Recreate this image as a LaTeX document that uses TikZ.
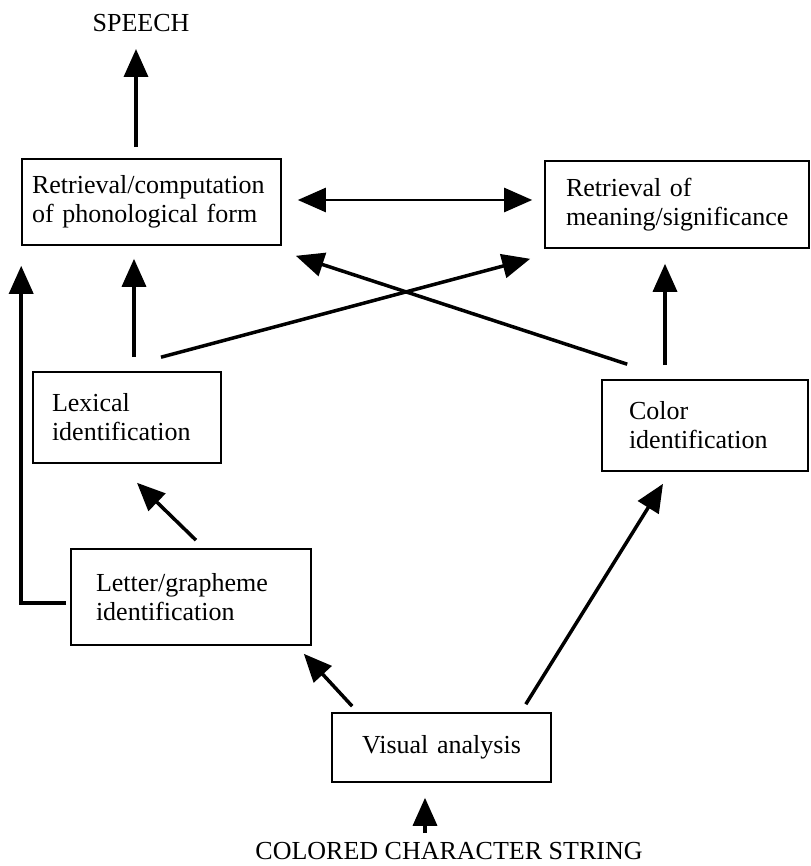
\documentclass[tikz,border=0pt]{standalone}
\usepackage{fontspec}
\setmainfont{Liberation Serif}
\usetikzlibrary{arrows.meta}
\begin{document}
\begin{tikzpicture}[x=1pt,y=-1pt,
  font=\fontsize{26}{29}\selectfont,
  box/.style={draw, line width=1.6pt, inner ysep=0pt, align=left},
  lbl/.style={inner sep=0pt},
  arr/.style={line width=3.5pt, -{Triangle[length=28pt,width=24pt]}},
  darr/.style={line width=2.5pt, {Triangle[length=28pt,width=24pt]}-{Triangle[length=28pt,width=24pt]}}
]
\useasboundingbox (0,0) rectangle (810,866);
% boxes
\node[box, minimum width=259pt, minimum height=86pt, inner xsep=10pt, text width=239pt] (phon) at (151.5,202) {Retrieval/computation\\of phonological form};
\node[box, minimum width=264pt, minimum height=87pt, inner xsep=21pt, text width=222pt] (mean) at (677,204.5) {Retrieval of\\meaning/significance};
\node[box, minimum width=188pt, minimum height=91pt, inner xsep=19pt, text width=150pt] (lex) at (127,417.5) {Lexical\\identification};
\node[box, minimum width=206pt, minimum height=91pt, inner xsep=27pt, text width=152pt] (color) at (705,425.5) {Color\\identification};
\node[box, minimum width=240pt, minimum height=96pt, inner xsep=25pt, text width=190pt] (letter) at (191,597) {Letter/grapheme\\identification};
\node[box, minimum width=219pt, minimum height=69pt, inner xsep=8pt, text width=203pt, align=center] (visual) at (441.5,747.5) {Visual analysis};
% labels
\node[lbl, anchor=base] (speech) at (141,32) {SPEECH};
\node[lbl, anchor=base] (input) at (449,859) {COLORED CHARACTER STRING};
% connectors
\draw[arr] ([xshift=-15.5pt,yshift=11pt]phon.north) -- ([xshift=-5pt,yshift=-17pt]speech.base);
\draw[darr] ([xshift=16pt,yshift=2pt]phon.east) -- ([xshift=-12pt,yshift=4.5pt]mean.west);
\draw[line width=3.5pt, -{Triangle[length=28pt,width=24pt]}] ([xshift=-4pt,yshift=-6pt]letter.west) -| ([yshift=-20pt]phon.south west);
\draw[arr] ([xshift=7pt,yshift=14pt]lex.north) -- ([xshift=-17.5pt,yshift=-13pt]phon.south);
\draw[arr] ([xshift=34pt,yshift=14pt]lex.north) -- ([xshift=-14pt,yshift=-10pt]mean.south west);
\draw[arr] ([xshift=26pt,yshift=15pt]color.north west) -- ([xshift=14pt,yshift=-10pt]phon.south east);
\draw[arr] ([xshift=-40pt,yshift=14pt]color.north) -- ([xshift=-12pt,yshift=-15pt]mean.south);
\draw[arr] ([xshift=5pt,yshift=8pt]letter.north) -- ([xshift=10pt,yshift=-19pt]lex.south);
\draw[arr] ([xshift=21pt,yshift=6pt]visual.north west) -- ([xshift=-8pt,yshift=-8pt]letter.south east);
\draw[arr] ([xshift=-26pt,yshift=8pt]visual.north east) -- ([xshift=-42pt,yshift=-12pt]color.south);
\draw[arr] ([xshift=-24pt,yshift=26pt]input.base) -- ([xshift=-16.5pt,yshift=-15pt]visual.south);
\end{tikzpicture}
\end{document}
